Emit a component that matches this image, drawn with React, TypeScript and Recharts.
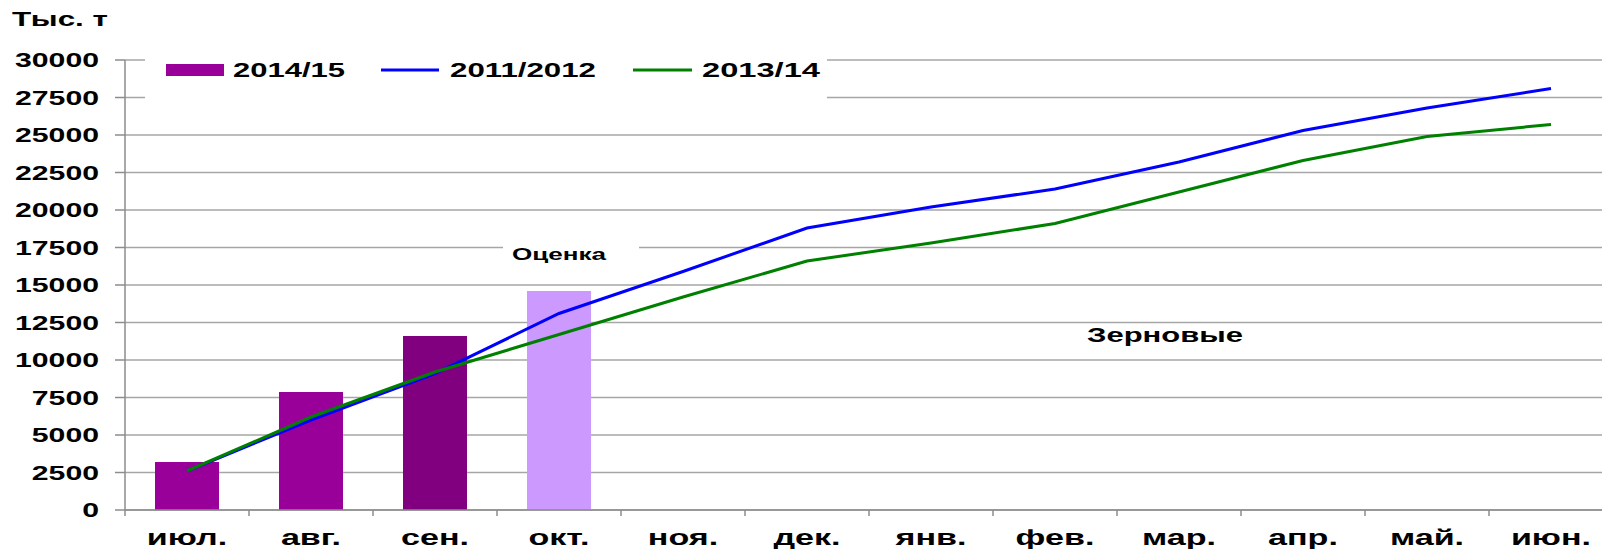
import {
   Bar,
   BarChart,
   CartesianGrid,
   Cell,
   Legend,
   Line,
   XAxis,
   YAxis,
} from "recharts";

const months = ["июл.", "авг.", "сен.", "окт.", "ноя.", "дек.", "янв.", "фев.", "мар.", "апр.", "май.", "июн."];
const harvest2014: (number | null)[] = [3200, 7870, 11600, 14600, null, null, null, null, null, null, null, null];
const harvest2011 = [2600, 6000, 9100, 13100, 15900, 18800, 20200, 21400, 23200, 25300, 26800, 28100];
const harvest2013 = [2600, 6200, 9200, 11700, 14200, 16600, 17800, 19100, 21200, 23300, 24900, 25700];
const yTicks = [0, 2500, 5000, 7500, 10000, 12500, 15000, 17500, 20000, 22500, 25000, 27500, 30000];

const barColors = ["#990099", "#990099", "#800080", "#CC99FF"];
const FONT = "'Liberation Sans', Arial, sans-serif";
const AXIS = "#8c8c8c";

const data = months.map((m, i) => ({
   month: m,
   s2014: harvest2014[i],
   s2011: harvest2011[i],
   s2013: harvest2013[i],
}));

const YTick = (props: any) => {
   const { x, y, payload } = props;
   return (
      <text
         x={x}
         y={y + 7.5}
         textAnchor="end"
         fontFamily={FONT}
         fontWeight="bold"
         fontSize={21}
         fill="#000"
         transform={`translate(${x} 0) scale(1.44 1) translate(${-x} 0)`}
      >
         {payload.value}
      </text>
   );
};

// category label plus the small tick marks on the band edges
const XTick = (props: any) => {
   const { x, y, payload, index, width, visibleTicksCount } = props;
   const half = width / visibleTicksCount / 2;
   const last = index === visibleTicksCount - 1;
   return (
      <g>
         <line x1={x - half} x2={x - half} y1={y} y2={y + 6} stroke={AXIS} strokeWidth={1.5} />
         {last && <line x1={x + half} x2={x + half} y1={y} y2={y + 6} stroke={AXIS} strokeWidth={1.5} />}
         <text
            x={x}
            y={y + 35}
            textAnchor="middle"
            fontFamily={FONT}
            fontWeight="bold"
            fontSize={22}
            fill="#000"
            transform={`translate(${x} 0) scale(1.55 1) translate(${-x} 0)`}
         >
            {payload.value}
         </text>
      </g>
   );
};

const ChartLegend = () => (
   <svg width={682} height={60} style={{ display: "block", background: "#fff" }}>
      <rect x={21} y={14} width={58} height={12} fill="#990099" />
      <text x={88} y={27} fontFamily={FONT} fontWeight="bold" fontSize={20} textLength={112} lengthAdjust="spacingAndGlyphs">
         2014/15
      </text>
      <line x1={236} x2={294} y1={20} y2={20} stroke="#0000FF" strokeWidth={3} />
      <text x={305} y={27} fontFamily={FONT} fontWeight="bold" fontSize={20} textLength={146} lengthAdjust="spacingAndGlyphs">
         2011/2012
      </text>
      <line x1={488} x2={547} y1={20} y2={20} stroke="#008000" strokeWidth={3} />
      <text x={557} y={27} fontFamily={FONT} fontWeight="bold" fontSize={20} textLength={118} lengthAdjust="spacingAndGlyphs">
         2013/14
      </text>
   </svg>
);

export default function App() {
   return (
      <div
         style={{
            position: "absolute",
            left: 0,
            top: 0,
            width: 1602,
            height: 549,
            overflow: "hidden",
            background: "#fff",
         }}
      >
         <BarChart
            width={1613}
            height={549}
            data={data}
            margin={{ top: 60, right: 0, bottom: 0, left: 0 }}
            barSize={64}
         >
            <CartesianGrid vertical={false} stroke="#a6a6a6" strokeWidth={1.5} />
            <XAxis
               dataKey="month"
               height={39}
               tickLine={false}
               tickSize={0}
               tickMargin={0}
               axisLine={{ stroke: AXIS, strokeWidth: 1.5 }}
               tick={<XTick />}
               interval={0}
            />
            <YAxis
               width={125}
               domain={[0, 30000]}
               ticks={yTicks}
               interval={0}
               tickSize={10}
               tickMargin={16}
               axisLine={{ stroke: AXIS, strokeWidth: 1.5 }}
               tickLine={{ stroke: AXIS, strokeWidth: 1.5 }}
               tick={<YTick />}
            />
            <Legend
               layout="horizontal"
               verticalAlign="middle"
               align="center"
               content={<ChartLegend />}
               wrapperStyle={{ position: "absolute", left: 145, top: 50, width: 682, height: 60 }}
            />
            <Bar dataKey="s2014" name="2014/15" isAnimationActive={false}>
               {data.map((d, i) => (
                  <Cell key={d.month} fill={barColors[i] ?? "#990099"} />
               ))}
            </Bar>
            <Line
               type="linear"
               dataKey="s2011"
               name="2011/2012"
               stroke="#0000FF"
               strokeWidth={3}
               dot={false}
               isAnimationActive={false}
            />
            <Line
               type="linear"
               dataKey="s2013"
               name="2013/14"
               stroke="#008000"
               strokeWidth={3}
               dot={false}
               isAnimationActive={false}
            />
         </BarChart>
         <svg
            width={1602}
            height={549}
            style={{ position: "absolute", left: 0, top: 0, pointerEvents: "none" }}
         >
            <text x={12} y={26} fontFamily={FONT} fontWeight="bold" fontSize={20} textLength={96} lengthAdjust="spacingAndGlyphs">
               Тыс. т
            </text>
            <rect x={503} y={238} width={136} height={24} fill="#fff" />
            <text x={512} y={260} fontFamily={FONT} fontWeight="bold" fontSize={17} textLength={94} lengthAdjust="spacingAndGlyphs">
               Оценка
            </text>
            <text x={1087} y={342} fontFamily={FONT} fontWeight="bold" fontSize={20} textLength={156} lengthAdjust="spacingAndGlyphs">
               Зерновые
            </text>
         </svg>
      </div>
   );
}
